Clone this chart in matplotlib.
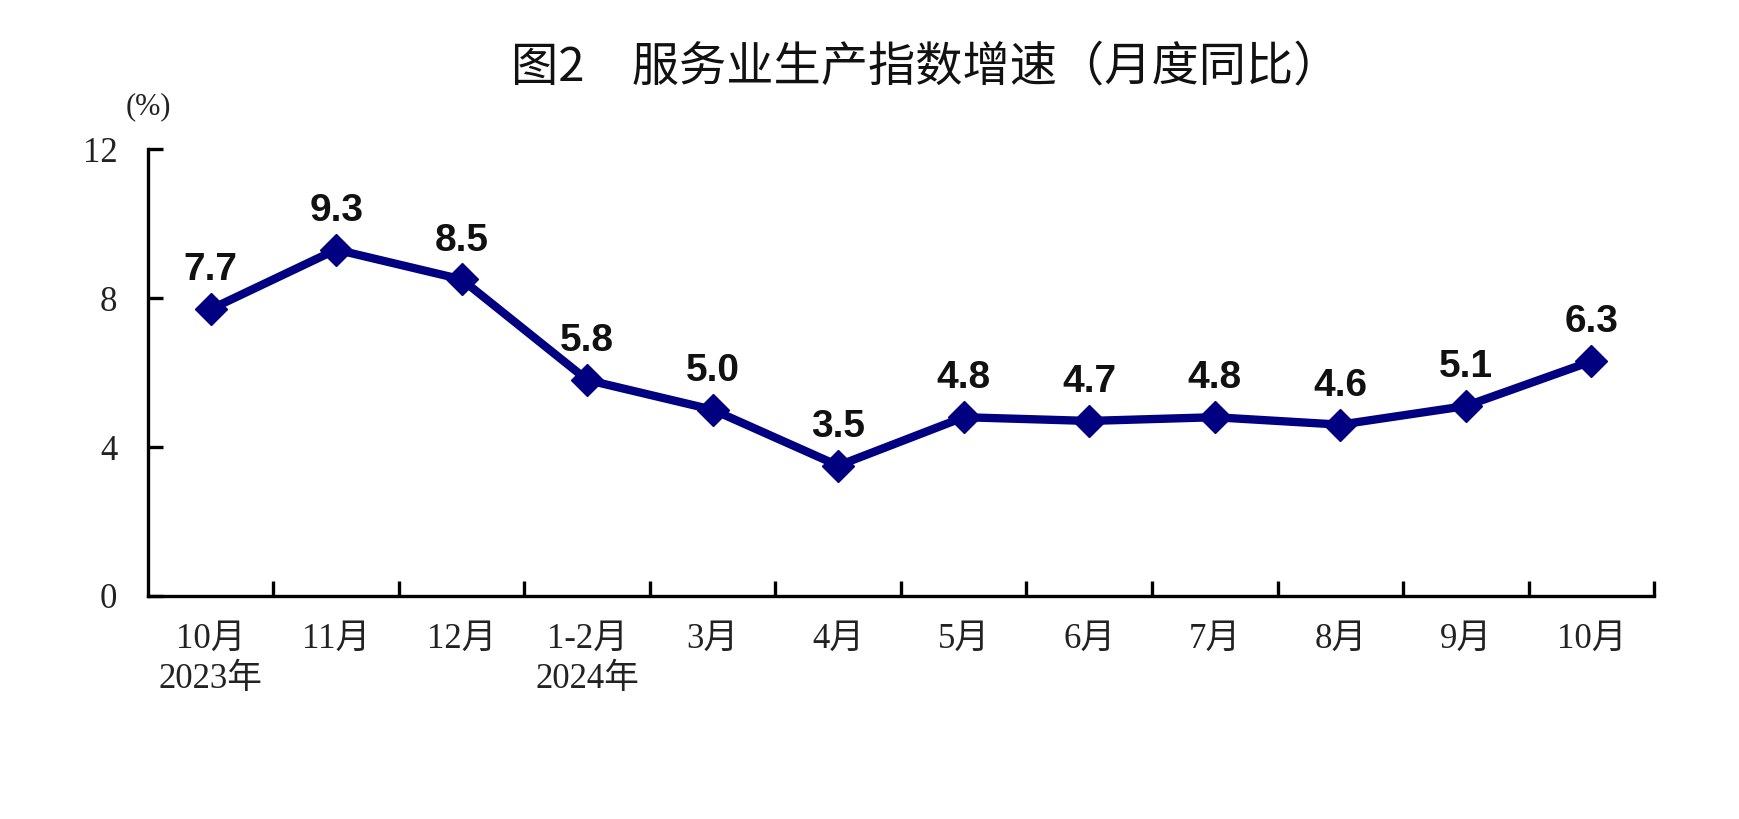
import matplotlib
matplotlib.use("Agg")
import matplotlib.pyplot as plt
import numpy as np

months = ["10月\n2023年", "11月", "12月", "1-2月\n2024年", "3月", "4月",
          "5月", "6月", "7月", "8月", "9月", "10月"]
growth = [7.7, 9.3, 8.5, 5.8, 5.0, 3.5, 4.8, 4.7, 4.8, 4.6, 5.1, 6.3]
yticks = [0, 4, 8, 12]

serif_cjk = ["Liberation Serif", "Noto Sans CJK SC"]
navy = "#000080"

fig = plt.figure(figsize=(17.4, 8.19), dpi=100)
ax = fig.add_axes([0.085, 0.2723, 0.8656, 0.5457])

x = np.arange(len(growth))
ax.plot(x, growth, color=navy, lw=6, marker="D", markersize=16,
        markerfacecolor=navy, markeredgecolor=navy, solid_joinstyle="round")

for xi, v in zip(x, growth):
    ax.annotate(f"{v:.1f}", (xi, v), xytext=(0, 28), textcoords="offset points",
                ha="center", va="center", fontsize=28, fontweight="bold",
                family="Liberation Sans", color="#111111")

ax.set_xlim(-0.5, len(growth) - 0.5)
ax.set_ylim(0, 12)

# category boundaries get the ticks, labels sit at the centres
ax.set_xticks(x + 0.5)
ax.set_xticklabels([])
ax.set_xticks(x, minor=True)
ax.set_xticklabels(months, minor=True, family=serif_cjk, fontsize=25,
                   linespacing=1.3, color="#222222")
ax.tick_params(axis="x", which="major", direction="in", length=11, width=2.4)
ax.tick_params(axis="x", which="minor", length=0, pad=19)

ax.set_yticks(yticks)
ax.set_yticklabels([str(t) for t in yticks], family=serif_cjk, fontsize=25,
                   color="#222222")
ax.tick_params(axis="y", direction="in", length=11, width=2.4, pad=22)

for side in ["top", "right"]:
    ax.spines[side].set_visible(False)
for side in ["left", "bottom"]:
    ax.spines[side].set_linewidth(2.4)

fig.text(0.085, 0.87, "(%)", ha="center", va="center", fontsize=22,
         family=serif_cjk, color="#222222")
fig.text(0.532, 0.918, "图2　服务业生产指数增速（月度同比）", ha="center",
         va="center", fontsize=34, family=["Noto Sans CJK SC", "DejaVu Sans"],
         color="#111111")

fig.savefig("out.png", dpi=100)
